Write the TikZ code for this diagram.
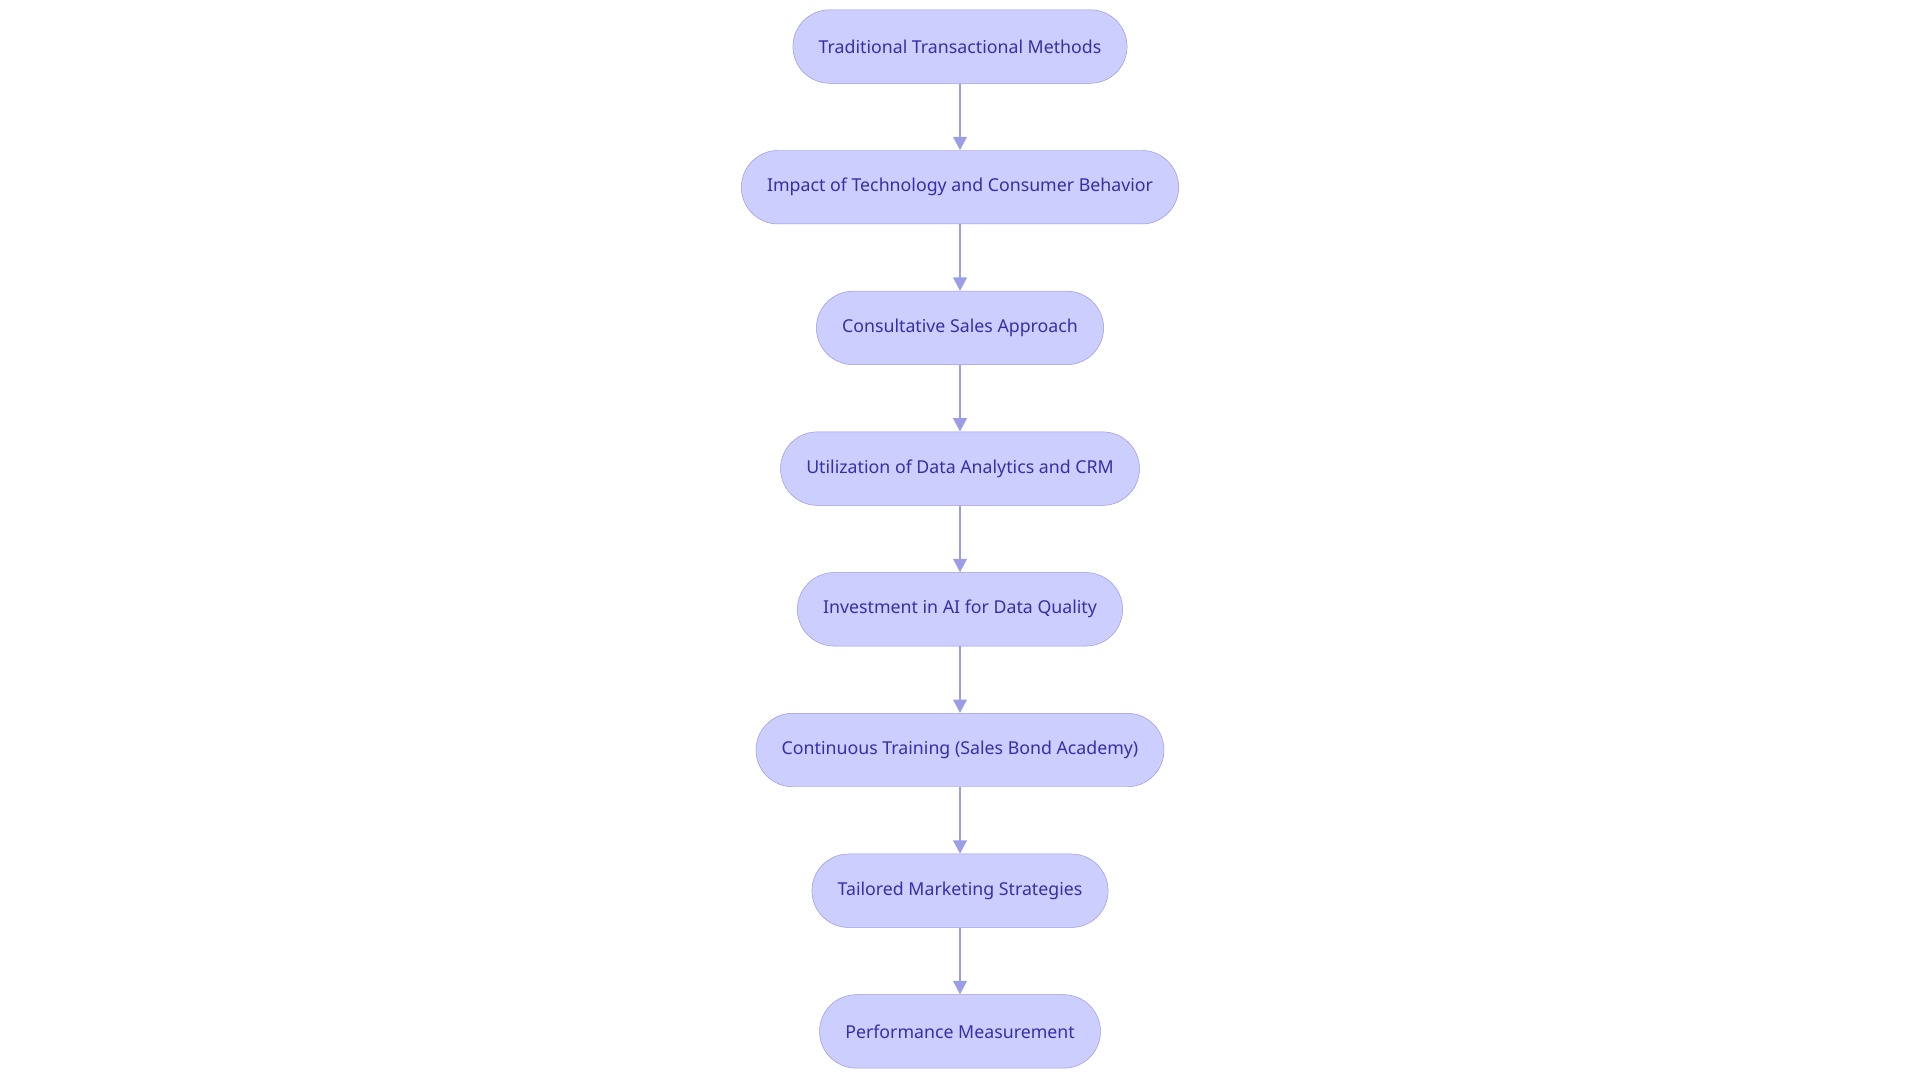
\documentclass[tikz,border=0pt]{standalone}
\usepackage{fontspec}
\setmainfont{Noto Sans}
\usetikzlibrary{positioning,arrows.meta}
\definecolor{boxfill}{HTML}{CCCEFD}
\definecolor{boxline}{HTML}{9A94E4}
\definecolor{boxtext}{HTML}{3430A8}
\definecolor{linkcol}{HTML}{9B9EE6}
\tikzset{
	stage/.style={
		rectangle,
		rounded corners=30pt,
		draw=boxline, fill=boxfill,
		text=boxtext,
		font=\fontsize{14.5}{17}\selectfont,
		minimum height=60pt,
		inner xsep=21pt,
		text centered,
	},
	link/.style={draw=linkcol, line width=2pt, -{Triangle[length=11pt,width=11pt]}},
}

\begin{document}
\begin{tikzpicture}[node distance=54.5pt, x=1pt, y=1pt]
\useasboundingbox (0,0) rectangle (1568,-884);
\node	(trad)		[stage]	at (784,-38)	{Traditional Transactional Methods};
\node	(impact)	[stage]	[below=of trad]	{Impact of Technology and Consumer Behavior};
\node	(consult)	[stage]	[below=of impact]	{Consultative Sales Approach};
\node	(data)		[stage]	[below=of consult]	{Utilization of Data Analytics and CRM};
\node	(invest)	[stage]	[below=of data]	{Investment in AI for Data Quality};
\node	(training)	[stage]	[below=of invest]	{Continuous Training (Sales Bond Academy)};
\node	(market)	[stage]	[below=of training]	{Tailored Marketing Strategies};
\node	(perf)		[stage]	[below=of market]	{Performance Measurement};

\draw[link] (trad) -- (impact);
\draw[link] (impact) -- (consult);
\draw[link] (consult) -- (data);
\draw[link] (data) -- (invest);
\draw[link] (invest) -- (training);
\draw[link] (training) -- (market);
\draw[link] (market) -- (perf);

\end{tikzpicture}
\end{document}
